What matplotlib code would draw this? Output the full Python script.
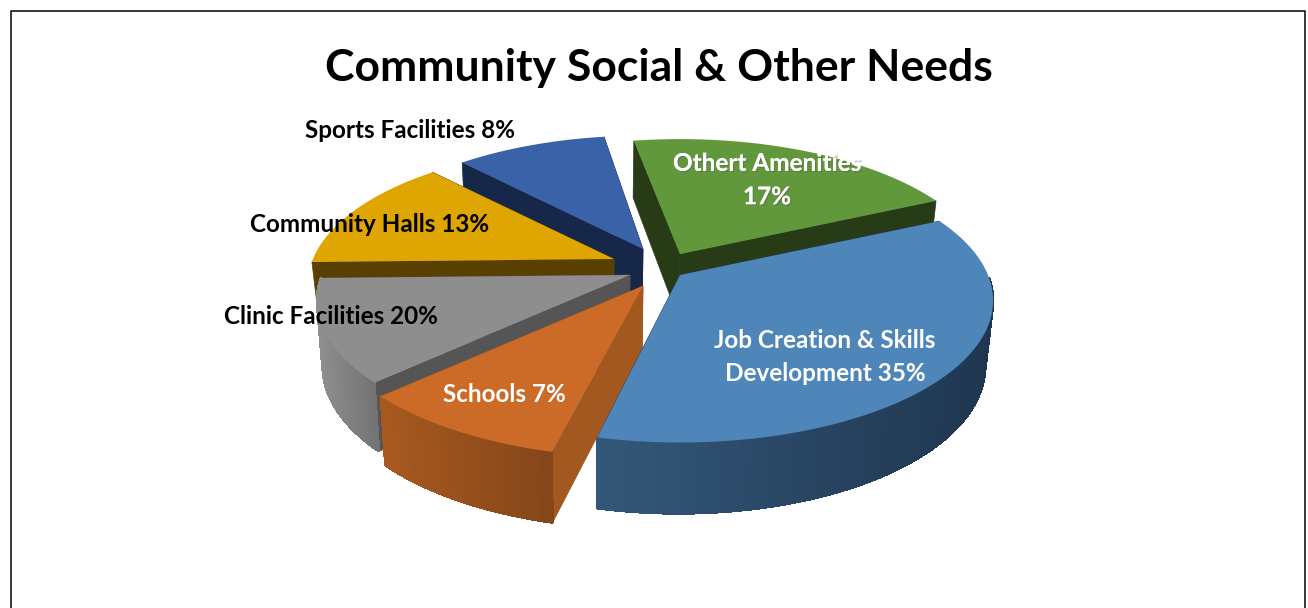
import numpy as np
import matplotlib
matplotlib.use("Agg")
import matplotlib.pyplot as plt
import matplotlib.patheffects as pe

# order is clockwise from the upper right
categories = ['Job Creation & Skills', 'Schools', 'Clinic Facilities', 'Community Halls', 'Sports Facilities', 'Othert Amenities']
label_pct = [35, 7, 20, 13, 8, 17]
# slice sizes as they are drawn, the picture does not follow its own labels
drawn_share = [35.5, 9.4, 11.7, 13.4, 9.5, 20.5]

top_colors = ['#4e86b9', '#cc6b28', '#8e8e8e', '#dfa500', '#3a62a8', '#62983c']
face_colors = ['#1f3650', '#a3581f', '#555555', '#5a4000', '#16274a', '#273b17']
rim_start = ['#34587a', '#a8591f', '#8e8e8e', '#5a4000', '#16274a', '#273b17']
rim_end = ['#1f3650', '#84461a', '#737373', '#5a4000', '#16274a', '#273b17']
apex_x = [680, 643, 630, 614, 643, 680]
apex_y = [275, 286, 275, 259, 249, 254]
radius = [308, 316, 308, 301, 300, 304]
depth = [64, 64, 64, 48, 64, 64]
start_pad = [0, -1, 0, 0, 0, 1.5]
draw_order = [4, 5, 3, 2, 1, 0]

START_ANGLE = 25
TILT = 0.446
PERSP = 0.18


def project(angle, i):
    u = np.cos(np.radians(angle))
    v = np.sin(np.radians(angle))
    w = 1 + PERSP * v
    return apex_x[i] + radius[i] * u / w, apex_y[i] - radius[i] * TILT * v / w


def lower(x, y, v, i):
    # bottom edge: a bit lower at the front, slightly pulled to the middle
    return 600 + (x - 600) * 0.98, y + depth[i] - 7 * v


def mix(c1, c2, t):
    a = np.array(matplotlib.colors.to_rgb(c1))
    b = np.array(matplotlib.colors.to_rgb(c2))
    return a + (b - a) * t


def draw_slice(ax, i, a1, a2):
    ax_, ay_ = apex_x[i], apex_y[i]
    angles = np.linspace(a1 + start_pad[i], a2, 60)
    xs, ys = project(angles, i)
    vs = np.sin(np.radians(angles))
    bx, by = lower(xs, ys, vs, i)
    abx, aby = lower(ax_, ay_, 0, i)

    # radial faces, the one lower on screen goes on top
    ends = sorted([0, -1], key=lambda k: ys[k])
    for k in ends:
        ax.fill([ax_, xs[k], bx[k], abx], [ay_, ys[k], by[k], aby], color=face_colors[i], lw=0.5, zorder=1)

    # outer wall, only the part facing the viewer
    for k in range(len(angles) - 1):
        if vs[k] > -0.03 and vs[k + 1] > -0.03:
            continue
        col = mix(rim_start[i], rim_end[i], (xs[k] - xs.min()) / (xs.max() - xs.min()))
        ax.fill([xs[k], xs[k + 1], bx[k + 1], bx[k]], [ys[k], ys[k + 1], by[k + 1], by[k]],
                color=col, lw=1.0, antialiased=False, zorder=1)

    ax.fill(np.r_[ax_, xs], np.r_[ay_, ys], color=top_colors[i], lw=0, zorder=1)


fig = plt.figure(figsize=(13.08, 6.08), dpi=100)
ax = fig.add_axes([0, 0, 1, 1])
ax.set_xlim(0, 1308)
ax.set_ylim(608, 0)
ax.axis('off')

# chart frame, runs off the bottom of the image
ax.plot([10.5, 10.5, 1305, 1305], [612, 10.5, 10.5, 612], color='black', lw=1.1)

edges = START_ANGLE - np.cumsum([0] + drawn_share) * 3.6
for i in draw_order:
    draw_slice(ax, i, edges[i], edges[i + 1])

ax.text(659, 68, 'Community Social & Other Needs', fontsize=32, fontweight='bold', family='Lato',
        ha='center', va='center', color='black')

shadow = [pe.withSimplePatchShadow(offset=(1, -1), shadow_rgbFace='#555555', alpha=0.35), pe.Normal()]
font = dict(family='Lato', fontweight='bold', fontsize=17.5, zorder=5, va='center')
ax.text(825, 357, 'Job Creation & Skills\n' + f'Development {label_pct[0]}%',
        color='white', ha='center', linespacing=1.55, **font)
ax.text(504, 395, f'{categories[1]} {label_pct[1]}%', color='white', ha='center', **font)
ax.text(331, 317, f'{categories[2]} {label_pct[2]}%', color='black', ha='center', **font)
ax.text(370, 224, f'{categories[3]} {label_pct[3]}%', color='black', ha='center', **font)
ax.text(410, 130, f'{categories[4]} {label_pct[4]}%', color='black', ha='center', **font)
ax.text(767, 180, f'{categories[5]}\n{label_pct[5]}%', color='white', ha='center', linespacing=1.55,
        path_effects=shadow, **font)

fig.savefig('out.png', dpi=100, facecolor='white')
